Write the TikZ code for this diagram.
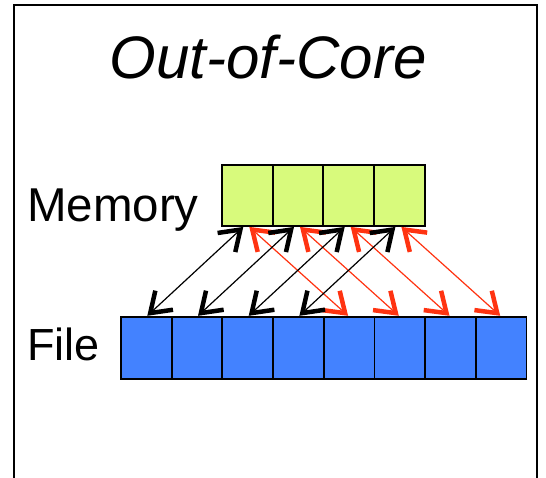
\documentclass[tikz,border=0pt]{standalone}
\usepackage{fontspec}
\setmainfont{Liberation Sans}
\usetikzlibrary{arrows.meta}

\definecolor{memgreen}{HTML}{D8FA7C}
\definecolor{fileblue}{HTML}{4382FF}
\definecolor{spillred}{HTML}{FF3311}

\begin{document}
\begin{tikzpicture}[
  x=1pt,y=-1pt,
  memcell/.style={draw,line width=1.8pt,fill=memgreen,inner sep=0pt,minimum width=50.7pt,minimum height=61pt},
  filecell/.style={draw,line width=1.8pt,fill=fileblue,inner sep=0pt,minimum width=50.7pt,minimum height=62pt},
  label/.style={font=\fontsize{47.5}{52}\selectfont,anchor=base west,inner sep=0pt},
  fetch/.style={{Straight Barb[length=19pt,width=26pt,line width=4.5pt]}-{Straight Barb[length=19pt,width=26pt,line width=4.5pt]},line width=1.2pt},
  flush/.style={fetch,spillred}
]
  \useasboundingbox (0,0) rectangle (546,477);
  \draw[line width=2pt] (14,5) rectangle (537,520);
  \node[font=\fontsize{60}{66}\selectfont\itshape,anchor=base,inner sep=0pt] (title) at (268,78) {Out-of-Core};
  \node[label] (memlabel) at (27,221) {Memory};
  \node[label,font=\fontsize{45}{50}\selectfont] (filelabel) at (27,360) {File};
  \foreach \i in {1,...,4} \node[memcell] (mem\i) at (196.6+50.7*\i,195.5) {};
  \foreach \i in {1,...,8} \node[filecell] (file\i) at (95.6+50.7*\i,347.7) {};
  \foreach \i in {1,...,4} {
    \pgfmathtruncatemacro{\j}{\i+4}
    \draw[fetch] ([xshift=-4pt]mem\i.south) -- ([xshift=1pt]file\i.north);
    \draw[flush] ([xshift=2pt]mem\i.south) -- ([xshift=-1pt]file\j.north);
  }
\end{tikzpicture}
\end{document}
